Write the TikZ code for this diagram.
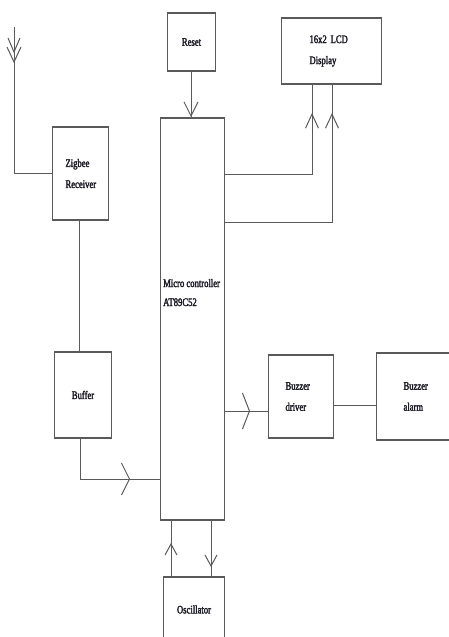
\documentclass[tikz,border=0pt]{standalone}
\usepackage{fontspec}
\setmainfont{Liberation Serif}[FakeStretch=0.75,FakeBold=2.5]
\usetikzlibrary{arrows.meta,decorations.markings}
\definecolor{ln}{RGB}{90,90,90}
\definecolor{tx}{RGB}{30,30,40}
\tikzset{
  blk/.style={draw=ln,line width=1pt,fill=white,inner sep=0pt,font=\fontsize{11.5}{21}\selectfont,text=tx,align=left},
  lbl/.style={inner sep=0pt,font=\fontsize{11.5}{19}\selectfont,text=tx,align=left},
  wire/.style={draw=ln,line width=1pt},
  chev/.style n args={3}{decoration={markings,mark=at position #1 with {\arrow{Straight Barb[length=#2,width=#3,line width=1pt]}}},postaction=decorate},
}
\begin{document}
\begin{tikzpicture}[x=1pt,y=-1pt]
\useasboundingbox (0,0) rectangle (449,637);
% boxes
\node[blk,minimum width=48pt,minimum height=57pt,anchor=north west] (reset) at (167,13) {Reset};
\node[blk,minimum width=100pt,minimum height=65pt,anchor=north west,text width=44pt] (lcd) at (281,18) {16x2 LCD\\Display};
\node[blk,minimum width=56pt,minimum height=92pt,anchor=north west,text width=30pt] (zig) at (52,127) {Zigbee\\Receiver};
\node[blk,minimum width=64pt,minimum height=401pt,anchor=north west] (mc) at (160,118) {};
\node[lbl,anchor=base west] (mctext) at (163,306) {Micro controller\\AT89C52};
\node[blk,minimum width=57pt,minimum height=85pt,anchor=north west] (buf) at (54,352) {Buffer};
\node[blk,minimum width=65pt,minimum height=82pt,anchor=north west,text width=31pt] (bdrv) at (268,355) {Buzzer\\driver};
\node[blk,minimum width=78pt,minimum height=86pt,anchor=north west,text width=24pt] (balm) at (376,353) {Buzzer\\alarm};
\node[blk,minimum width=61pt,minimum height=64pt,anchor=north west] (osc) at (163,577) {Oscillator};
% thick top/bottom edges
\foreach \n in {reset,lcd,zig,mc,buf,bdrv,balm,osc}{
  \draw[ln,line width=2pt] (\n.north west) -- (\n.north east);
  \draw[ln,line width=1.6pt] (\n.south west) -- (\n.south east);
}
% antenna
\coordinate (ant) at (14,27);
\draw[wire] (ant) |- (zig.west);
\draw[wire] (8,38) -- (14,52) -- (20,38);
\draw[wire] (7,47) -- (14,62) -- (21,47);
% zigbee - buffer
\draw[wire] (zig.south -| 79,0) -- (buf.north -| 79,0);
% buffer - mc
\draw[wire,chev={-30pt}{8pt}{32pt}] (buf.south -| 80,0) |- (mc.west |- 0,479);
% reset - mc
\draw[wire,chev={-1pt}{14pt}{14pt}] (reset.south -| 191,0) -- (mc.north -| 191,0);
% mc - lcd
\draw[wire,chev={-29pt}{14pt}{13pt}] (mc.east |- 0,174) -| (lcd.south -| 312,0);
\draw[wire,chev={-29pt}{14pt}{13pt}] (mc.east |- 0,222) -| (lcd.south -| 332,0);
% mc - buzzer driver
\draw[wire,chev={-18pt}{7pt}{36pt}] (mc.east |- 0,411) -- (bdrv.west |- 0,411);
\draw[wire] (bdrv.east |- 0,405) -- (balm.west |- 0,405);
% oscillator
\draw[wire,chev={34pt}{11pt}{12pt}] (osc.north -| 171,0) -- (mc.south -| 171,0);
\draw[wire,chev={-10pt}{11pt}{12pt}] (mc.south -| 211,0) -- (osc.north -| 211,0);
\end{tikzpicture}
\end{document}
